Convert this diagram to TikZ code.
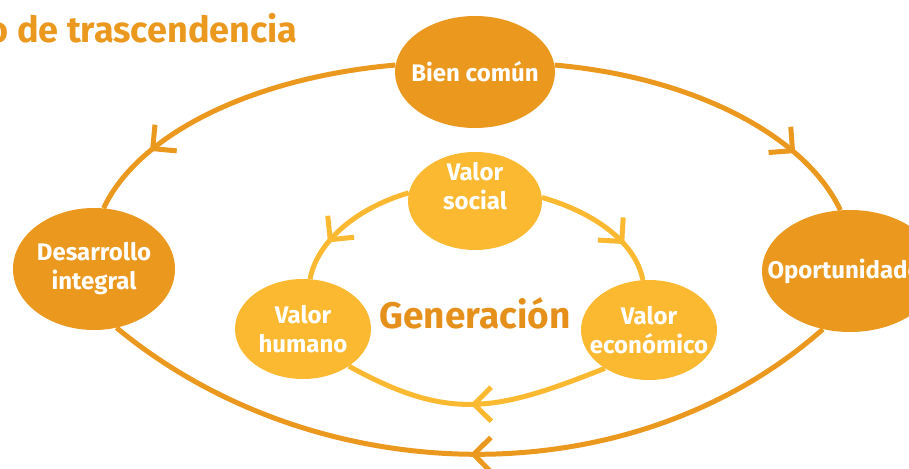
\documentclass[tikz,border=0pt]{standalone}
\usepackage{fontspec}
\setsansfont{Fira Sans}
\usepackage{tikz}
\usetikzlibrary{positioning, shapes.geometric, arrows.meta, decorations.markings}
\definecolor{outerorange}{RGB}{234,152,30}
\definecolor{innerorange}{RGB}{251,185,50}
\definecolor{textorange}{RGB}{230,144,28}

\begin{document}
\begin{tikzpicture}[
        x=1pt, y=1pt,
        bigvertex/.style={ellipse, fill=outerorange, inner sep=0pt},
        smallvertex/.style={ellipse, fill=innerorange, inner sep=0pt, minimum width=136pt, minimum height=100pt},
        vlabel/.style={text=white, align=center, font=\sffamily\bfseries\fontsize{24}{29}\selectfont},
        outeredge/.style={draw=outerorange, line width=5pt},
        inneredge/.style={draw=innerorange, line width=5pt},
        midarrow/.style={postaction={decorate, decoration={markings, mark=at position #1 with {\arrow{Straight Barb[length=17pt, width=34pt]}}}}}
    ]
        \useasboundingbox (0,0) rectangle (909,468);

        % Title
        \node[anchor=base east, text=outerorange, font=\sffamily\bfseries\fontsize{36}{42}\selectfont] (title) at (301,425) {o de trascendencia};

        % Outer nodes
        \node[bigvertex, minimum width=160pt, minimum height=112pt, label={[vlabel]center:Bien común}] (bien) at (475,396) {};
        \node[bigvertex, minimum width=162pt, minimum height=122pt, label={[vlabel]center:Desarrollo\\integral}] (des) at (94,199) {};
        \node[bigvertex, minimum width=176pt, minimum height=122pt, label={[vlabel]center:Oportunidades}] (opo) at (850,197) {};

        % Inner nodes
        \node[smallvertex, minimum width=134pt, minimum height=98pt, label={[vlabel, text height=18pt]center:Valor\\social}] (soc) at (475,267) {};
        \node[smallvertex, label={[vlabel]center:Valor\\humano}] (hum) at (303,139) {};
        \node[smallvertex, label={[vlabel]center:Valor\\económico}] (eco) at (649,138) {};

        \node[text=textorange, font=\sffamily\bfseries\fontsize{37}{42}\selectfont] (gen) at (475,155) {Generación};

        % Outer cycle
        \draw[outeredge, midarrow=0.78] (bien.175) .. controls +(185:143) and +(65:82) .. (des.81);
        \draw[outeredge, midarrow=0.78] (bien.5) .. controls +(-5:141) and +(115:81) .. (opo.99);
        \draw[outeredge, midarrow=0.5] (opo.245) .. controls +(221.5:258) and +(320.4:258) .. (des.291);

        % Inner cycle
        \draw[inneredge, midarrow=0.7] (soc.173) .. controls +(196:50) and +(79:41) .. (hum.82);
        \draw[inneredge, midarrow=0.7] (soc.3) .. controls +(-16:50) and +(101:41) .. (eco.97);
        \draw[inneredge, midarrow=0.52] (eco.221) .. controls +(201.6:116) and +(331:116) .. (hum.321);
    \end{tikzpicture}
\end{document}
